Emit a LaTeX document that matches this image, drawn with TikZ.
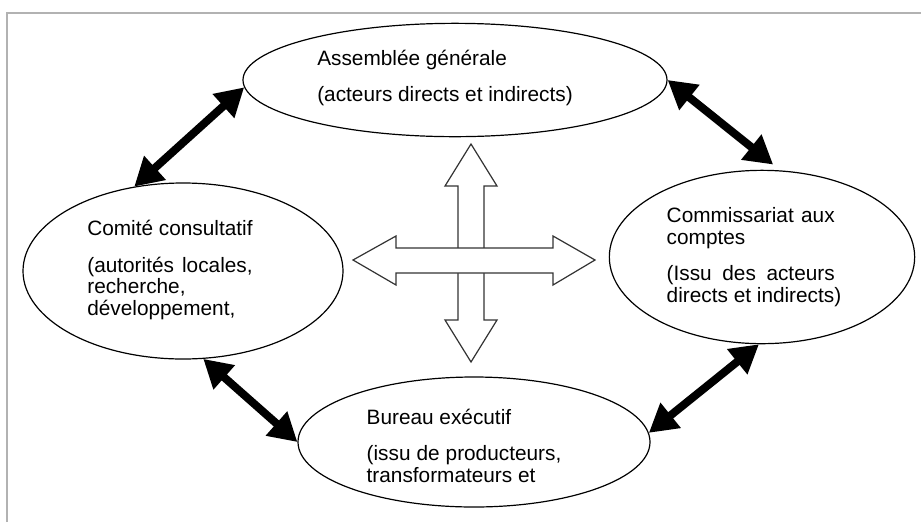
\documentclass[tikz,border=0pt]{standalone}
\usepackage{fontspec}
\setmainfont{Liberation Sans}
\usetikzlibrary{arrows.meta,shapes,positioning}

\begin{document}
\begin{tikzpicture}[x=0.75pt,y=-0.75pt,line width=0.9pt]
    \tikzstyle{organe}=[ellipse, draw, inner sep=0pt]
    \tikzstyle{texte}=[align=left, inner sep=0pt, font=\fontsize{15.6}{16.2}\selectfont]
    \tikzstyle{lien}=[line width=6pt, <->, >={Triangle[length=21pt,width=23pt]}]
    \tikzstyle{croix}=[draw=black!80, fill=white, line join=miter]

    \useasboundingbox (0,0) rectangle (921,522);
    \draw[gray!60, line width=1.2pt] (7,522) -- (7,13) -- (921,13);

    % les quatre organes
    \node[organe, minimum width=318pt, minimum height=85pt]   (ag) at (455,80) {};
    \node[organe, minimum width=240pt, minimum height=132pt]  (cc) at (183,271) {};
    \node[organe, minimum width=229pt, minimum height=130pt]  (ca) at (762,257) {};
    \node[organe, minimum width=264pt, minimum height=97.5pt] (be) at (474,442) {};

    \node[texte] (ag-t) at (445,78) {Assemblée générale\\[11pt](acteurs directs et indirects)};
    \node[texte] (cc-t) at (170,270) {Comité consultatif\\[11pt]\makebox[124pt][s]{(autorités locales,}\\recherche,\\développement,};
    \node[texte] (ca-t) at (754,257) {\makebox[126pt][s]{Commissariat aux}\\comptes\\[11pt]\makebox[126pt][s]{(Issu des acteurs}\\directs et indirects)};
    \node[texte] (be-t) at (464,446) {Bureau exécutif\\[11pt]\makebox[146pt][s]{(issu de producteurs,}\\transformateurs et};

    % liens
    \draw[lien] (cc.120) -- (ag.182);
    \draw[lien, shorten >=7pt] (ag.east) -- (ca.78);
    \draw[lien] (ca.268) -- (be.3);
    \draw[lien] (cc.283) -- (be.west);

    % croix centrale
    \draw[croix] (471,144) -- (497,186) -- (484,186) -- (484,320) -- (497,320) -- (471,362)
        -- (445,320) -- (458,320) -- (458,186) -- (445,186) -- cycle;
    \draw[croix] (353,260) -- (396,236) -- (396,248) -- (553,248) -- (553,236) -- (595,260)
        -- (553,285) -- (553,273) -- (396,273) -- (396,285) -- cycle;
\end{tikzpicture}
\end{document}
